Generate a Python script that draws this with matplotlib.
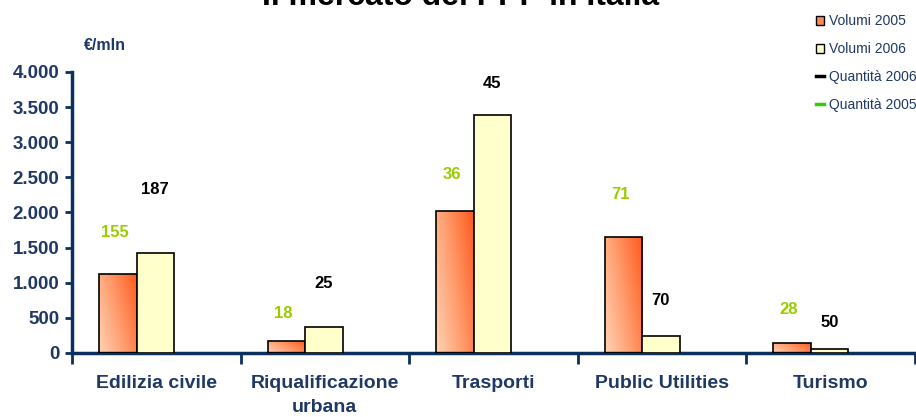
import numpy as np
import matplotlib.pyplot as plt
from matplotlib.lines import Line2D
from matplotlib.patches import Patch
from matplotlib.colors import LinearSegmentedColormap

plt.rcParams['font.family'] = ['Liberation Sans', 'DejaVu Sans']

categories = ['Edilizia civile', 'Riqualificazione\nurbana', 'Trasporti', 'Public Utilities', 'Turismo']
volumi_2005 = [1125, 170, 2020, 1650, 145]
volumi_2006 = [1430, 375, 3380, 240, 60]
quantita_2005 = [155, 18, 36, 71, 28]
quantita_2006 = [187, 25, 45, 70, 50]
y_ticks = [0, 500, 1000, 1500, 2000, 2500, 3000, 3500, 4000]
y_ticklabels = ['0', '500', '1.000', '1.500', '2.000', '2.500', '3.000', '3.500', '4.000']

navy = '#0B2F5E'
text_navy = '#1F3864'
green = '#99CC00'

# heights (data units) where the quantity labels sit
lab05_y = [1708, 569, 2534, 2249, 612]
lab06_y = [2320, 996, 3829, 740, 427]

fig = plt.figure(figsize=(9.16, 4.17), dpi=100)
ax = fig.add_axes([0.0786, 0.1535, 0.92, 0.674])

x = np.arange(len(categories))
w = 0.222
x05 = x - 0.228
x06 = x - 0.006

grad = LinearSegmentedColormap.from_list('g', ['#FFD2B4', '#FF9A6A', '#FF5A1E'])
gx, gy = np.meshgrid(np.linspace(0, 1, 50), np.linspace(0, 1, 50))
gimg = (gx * 0.8 + (1 - gy) * 0.4)

bars05 = ax.bar(x05, volumi_2005, w, color='none', edgecolor='black', linewidth=1.2, zorder=3)
for b in bars05:
    x0, y0 = b.get_x(), b.get_y()
    im = ax.imshow(gimg, cmap=grad, extent=[x0, x0 + b.get_width(), y0, y0 + b.get_height()],
                   aspect='auto', origin='upper', zorder=2)
    im.set_clip_path(b)
ax.bar(x06, volumi_2006, w, color='#FFFFCC', edgecolor='black', linewidth=1.2, zorder=3)

for i in range(len(categories)):
    ax.text(x05[i] - 0.02, lab05_y[i], str(quantita_2005[i]), color=green, fontsize=12,
            fontweight='bold', ha='center', va='center')
    ax.text(x06[i], lab06_y[i], str(quantita_2006[i]), color='black', fontsize=12,
            fontweight='bold', ha='center', va='center')

ax.set_xlim(-0.5, len(categories) - 0.5)
ax.set_ylim(0, 4000)
ax.set_yticks(y_ticks)
ax.set_yticklabels(y_ticklabels)
ax.set_xticks(np.arange(len(categories) + 1) - 0.5)
ax.set_xticklabels([])
ax.set_xticks(x, minor=True)
ax.set_xticklabels(categories, minor=True, linespacing=1.5)
ax.tick_params(axis='x', which='minor', length=0, pad=16, labelsize=14, labelcolor=text_navy)
ax.tick_params(axis='x', which='major', length=8, width=2, color=navy, direction='out')
ax.tick_params(axis='y', length=5, width=2, color=navy, labelsize=13.5, labelcolor=text_navy, pad=4)
for lbl in ax.get_yticklabels() + ax.get_xticklabels(minor=True):
    lbl.set_fontweight('bold')

for s in ['top', 'right']:
    ax.spines[s].set_visible(False)
for s in ['left', 'bottom']:
    ax.spines[s].set_color(navy)
    ax.spines[s].set_linewidth(2.5)

fig.text(0.092, 0.892, '€/mln', color=text_navy, fontsize=11.5, fontweight='bold', va='center')
fig.text(0.503, 0.989, 'Il mercato del PPP in Italia', fontsize=23, fontweight='bold',
         ha='center', va='baseline')

handles = [
    Patch(facecolor='#FF8A5A', edgecolor='black', linewidth=1),
    Patch(facecolor='#FFFFCC', edgecolor='black', linewidth=1),
    Line2D([0], [0], color='black', linewidth=2.5),
    Line2D([0], [0], color='#33CC00', linewidth=2.5),
]
leg = fig.legend(handles, ['Volumi 2005', 'Volumi 2006', 'Quantità 2006', 'Quantità 2005'],
                 loc='upper right', bbox_to_anchor=(1.01, 0.986), frameon=False, fontsize=10,
                 handlelength=0.6, handleheight=0.6, handletextpad=0.35, labelspacing=1.0,
                 borderaxespad=0.2)
for t in leg.get_texts():
    t.set_color(text_navy)

fig.savefig('out.png', dpi=100)
